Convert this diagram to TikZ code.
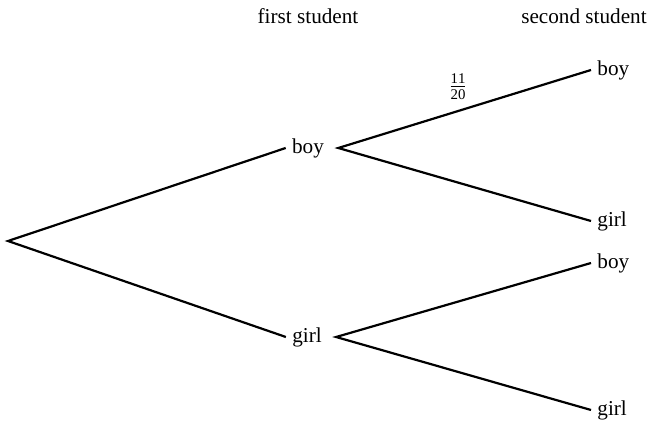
\documentclass[tikz,border=0pt]{standalone}
\usepackage{fontspec}
\setmainfont{Liberation Serif}
\usepackage{tikz}
\usetikzlibrary{positioning}

\begin{document}
\begin{tikzpicture}[
    x=0.5pt, y=-0.5pt,
    txt/.style={font=\fontsize{10.6}{12}\selectfont, inner xsep=3pt, inner ysep=0pt},
    lbl/.style={txt, text height=1.4ex, text depth=0.3ex},
    branch/.style={line width=1.1pt}
]
    \useasboundingbox (0,0) rectangle (652,421);
    % column headings
    \node[lbl] (h1) at (308,18) {first student};
    \node[lbl] (h2) at (584,18) {second student};
    % tree
    \coordinate (root) at (8,241);
    \node[lbl] (b1) at (308,148) {boy};
    \node[lbl] (g1) at (307,337) {girl};
    \node[lbl, anchor=west] (bb) at (591,70) {boy};
    \node[lbl, anchor=west] (bg) at (591,221) {girl};
    \node[lbl, anchor=west] (gb) at (591,263) {boy};
    \node[lbl, anchor=west] (gg) at (591,410) {girl};
    \draw[branch] (b1.west) -- (root) -- (g1.west);
    \draw[branch] (bb.west) -- ([xshift=4pt]b1.east) -- (bg.west);
    \draw[branch] (gb.west) -- ([xshift=4pt]g1.east) -- (gg.west);
    % probability
    \node[txt] (p) at (458,87) {$\frac{\mathrm{11}}{\mathrm{20}}$};
\end{tikzpicture}
\end{document}
